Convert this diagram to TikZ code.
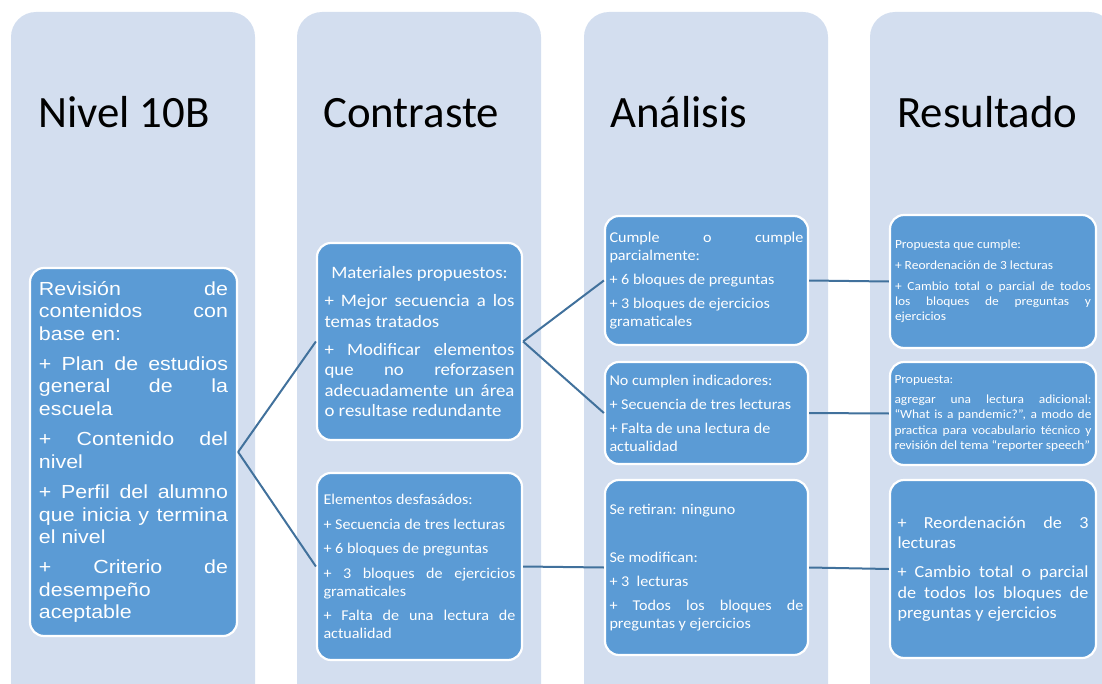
\documentclass[tikz,border=0pt]{standalone}
\usepackage{fontspec}
\setmainfont{Carlito}
\newfontfamily\cardfont[FakeStretch=1.08]{Carlito}
\newfontfamily\arialfont[FakeStretch=1.13]{Liberation Sans}
\usepackage{xcolor}
\usetikzlibrary{positioning}
\definecolor{colBack}{RGB}{211,222,239}
\definecolor{boxBlue}{RGB}{91,155,213}
\definecolor{lineBlue}{RGB}{65,113,156}
\newcommand{\boxfont}[3]{\fontsize{#1}{#2}\selectfont\setlength{\parskip}{#3}}
\hyphenpenalty=10000
\exhyphenpenalty=10000
\tolerance=10000
\hbadness=10000

\begin{document}
\begin{tikzpicture}[x=1bp,y=-1bp,
    colbg/.style={fill=colBack, rounded corners=25bp},
    coltitle/.style={anchor=base west, inner sep=0pt, font=\fontsize{45}{50}\selectfont},
    card/.style={draw=white, line width=2.2bp, fill=boxBlue, rounded corners=14bp,
        text=white, align=justify, inner xsep=7.5bp, inner ysep=0pt, font=\cardfont},
    link/.style={draw=lineBlue, line width=2bp}]
    \useasboundingbox (0,0) rectangle (1102,684);
    \clip (0,0) rectangle (1102,684);

    \fill[colbg] (11,720) -- (11,12) -- (255,12) -- (255,720) -- cycle;
    \fill[colbg] (297,720) -- (297,12) -- (541,12) -- (541,720) -- cycle;
    \fill[colbg] (584,720) -- (584,12) -- (828,12) -- (828,720) -- cycle;
    \fill[colbg] (870,720) -- (870,12) -- (1114,12) -- (1114,720) -- cycle;

    \node[coltitle] (tNivel) at (38,128) {Nivel 10B};
    \node[coltitle] (tContraste) at (323,128) {Contraste};
    \node[coltitle] (tAnalisis) at (610,128) {Análisis};
    \node[coltitle] (tResultado) at (897,128) {Resultado};

    \node[card, text width=189bp, inner xsep=9bp, minimum height=368bp] (nivel) at (133.5,452) {\arialfont\boxfont{19}{22.5}{8bp}%
        Revisión de contenidos con base en:\par
        + Plan de estudios general de la escuela\par
        + Contenido del nivel\par
        + Perfil del alumno que inicia y termina el nivel\par
        + Criterio de desempeño aceptable\par};

    \node[card, text width=190bp, minimum height=197bp] (materiales) at (419.5,341.5) {\boxfont{17.5}{20.5}{8bp}%
        {\centering Materiales propuestos:\par}
        + Mejor secuencia a los temas tratados\par
        + Modificar elementos que no reforzasen adecuadamente un área o resultase redundante\par};
    \node[card, text width=192bp, inner xsep=6.5bp, minimum height=187bp] (desfasados) at (419.5,566.5) {\boxfont{15}{18}{6.5bp}%
        Elementos desfasádos:\par
        + Secuencia de tres lecturas\par
        + 6 bloques de preguntas\par
        + 3 bloques de ejercicios gramaticales\par
        + Falta de una lectura de actualidad\par};

    \node[card, text width=194bp, inner xsep=4.5bp, minimum height=129bp] (cumple) at (706.5,280.5) {\boxfont{15}{18}{6bp}%
        Cumple o cumple parcialmente:\par
        {\raggedright + 6 bloques de preguntas\par
        + 3 bloques de ejercicios gramaticales\par}};
    \node[card, text width=194bp, inner xsep=4.5bp, minimum height=102bp] (nocumplen) at (706.5,413) {\boxfont{15}{18}{6bp}%
        No cumplen indicadores:\par
        {\raggedright + Secuencia de tres lecturas\par
        + Falta de una lectura de actualidad\par}};
    \node[card, text width=194bp, inner xsep=4.5bp, minimum height=175bp] (retiran) at (706.5,567.5) {\boxfont{15}{18}{6bp}%
        Se retiran: ninguno\par
        \mbox{}\par
        Se modifican:\par
        + 3\ \ lecturas\par
        + Todos los bloques de preguntas y ejercicios\par};

    \node[card, text width=196bp, inner xsep=5bp, minimum height=133bp] (propCumple) at (993,281.5) {\boxfont{12.5}{15}{6bp}%
        Propuesta que cumple:\par
        + Reordenación de 3 lecturas\par
        + Cambio total o parcial de todos\linebreak los bloques de preguntas y\linebreak ejercicios\par};
    \node[card, text width=197bp, inner xsep=4.5bp, minimum height=103bp] (propuesta) at (993,413.5) {\boxfont{12.5}{15.5}{4.5bp}%
        Propuesta:\par
        agregar una lectura adicional:\linebreak “What is a pandemic?”, a modo de\linebreak practica para vocabulario técnico y\linebreak revisión del tema “reporter speech”\par};
    \node[card, text width=191bp, minimum height=178bp] (reorden) at (993,569) {\boxfont{16.9}{20.5}{9bp}%
        + Reordenación de 3 lecturas\par
        + Cambio total o parcial de todos los bloques de preguntas y ejercicios\par};

    \draw[link] (nivel.east) -- (materiales.west);
    \draw[link] (nivel.east) -- (desfasados.west);
    \draw[link] (materiales.east) -- (cumple.west);
    \draw[link] (materiales.east) -- (nocumplen.west);
    \draw[link] (desfasados.east) -- (retiran.west);
    \draw[link] (cumple.east) -- (propCumple.west);
    \draw[link] (nocumplen.east) -- (propuesta.west);
    \draw[link] (retiran.east) -- (reorden.west);
\end{tikzpicture}
\end{document}
